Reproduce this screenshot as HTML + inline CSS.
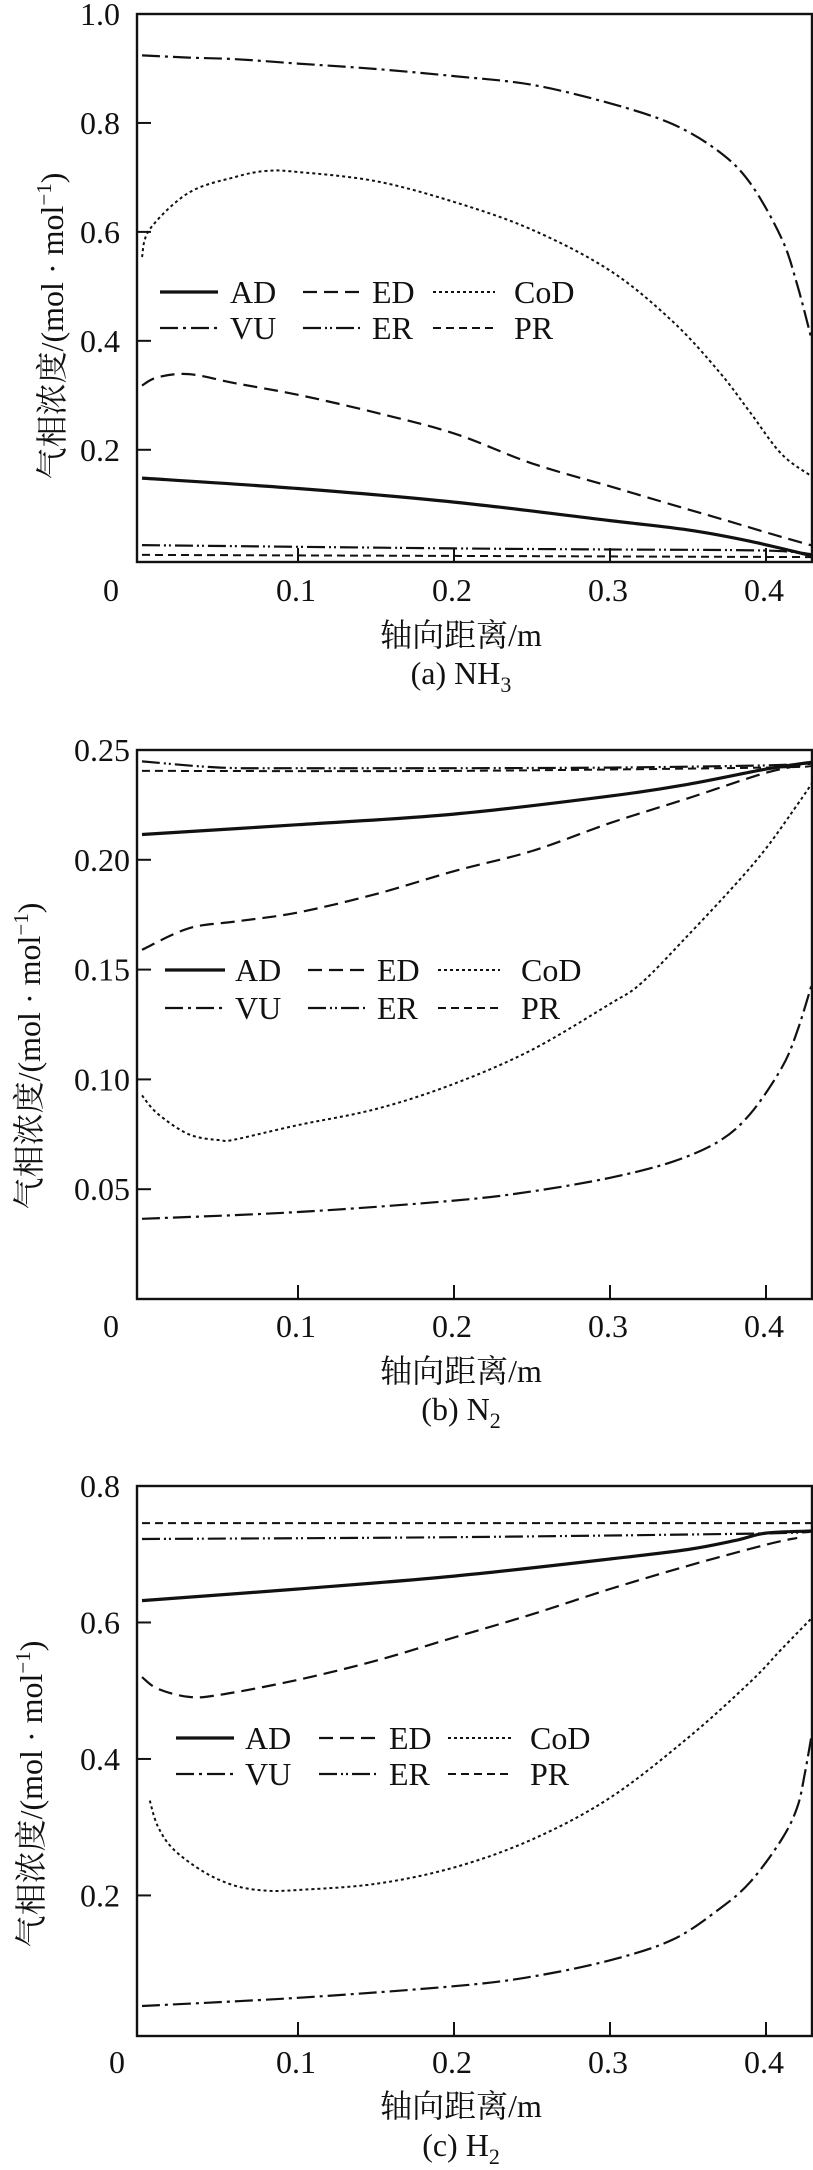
<!DOCTYPE html>
<html><head><meta charset="utf-8">
<style>
html,body{margin:0;padding:0;background:#fff;}
svg{display:block;}
text{font-family:"Liberation Serif","Noto Serif CJK SC",serif;fill:#111;}
</style></head>
<body>
<svg id="chart" width="813" height="2170" viewBox="0 0 813 2170" xmlns="http://www.w3.org/2000/svg"></svg>
<script>
// ---- data ----
const xTickValues = [0.1, 0.2, 0.3, 0.4];
const xTickLabels = ["0.1", "0.2", "0.3", "0.4"];
const seriesNames = ["AD", "ED", "CoD", "VU", "ER", "PR"];

// Panel (a) NH3
const aYTicks = [0.2, 0.4, 0.6, 0.8, 1.0];
const aYTickLabels = ["0.2", "0.4", "0.6", "0.8", "1.0"];
const aADx = [0, 0.1, 0.2, 0.3, 0.35, 0.39, 0.43];
const aADy = [0.148, 0.129, 0.104, 0.070, 0.053, 0.032, 0.005];
const aEDx = [0, 0.01, 0.03, 0.06, 0.1, 0.15, 0.2, 0.25, 0.3, 0.34, 0.37, 0.39, 0.41, 0.43];
const aEDy = [0.318, 0.333, 0.339, 0.322, 0.301, 0.268, 0.230, 0.175, 0.133, 0.099, 0.074, 0.057, 0.040, 0.024];
const aCoDx = [0, 0.005, 0.03, 0.06, 0.08, 0.1, 0.15, 0.2, 0.25, 0.3, 0.34, 0.37, 0.39, 0.41, 0.43];
const aCoDy = [0.554, 0.605, 0.672, 0.701, 0.712, 0.710, 0.693, 0.655, 0.604, 0.529, 0.436, 0.343, 0.268, 0.192, 0.150];
const aVUx = [0, 0.03, 0.06, 0.1, 0.15, 0.2, 0.25, 0.3, 0.34, 0.37, 0.39, 0.41, 0.42, 0.43];
const aVUy = [0.924, 0.920, 0.917, 0.909, 0.899, 0.886, 0.870, 0.836, 0.798, 0.747, 0.689, 0.588, 0.503, 0.394];
const aERx = [0, 0.2, 0.3, 0.4, 0.43];
const aERy = [0.025, 0.019, 0.017, 0.015, 0.008];
const aPRx = [0, 0.43];
const aPRy = [0.007, 0.003];

// Panel (b) N2
const bYTicks = [0.05, 0.10, 0.15, 0.20, 0.25];
const bYTickLabels = ["0.05", "0.10", "0.15", "0.20", "0.25"];
const bADx = [0, 0.1, 0.2, 0.3, 0.35, 0.4, 0.43];
const bADy = [0.2115, 0.216, 0.2208, 0.229, 0.2344, 0.2413, 0.2445];
const bEDx = [0, 0.03, 0.06, 0.1, 0.15, 0.2, 0.25, 0.3, 0.35, 0.4, 0.43];
const bEDy = [0.159, 0.1688, 0.1719, 0.176, 0.1844, 0.1948, 0.204, 0.2167, 0.228, 0.2396, 0.2440];
const bCoDx = [0, 0.01, 0.03, 0.05, 0.06, 0.1, 0.15, 0.2, 0.25, 0.3, 0.32, 0.35, 0.38, 0.4, 0.42, 0.43];
const bCoDy = [0.0927, 0.0844, 0.075, 0.0723, 0.0727, 0.0792, 0.0865, 0.098, 0.1135, 0.1344, 0.1438, 0.1656, 0.1885, 0.2052, 0.225, 0.2354];
const bVUx = [0, 0.1, 0.2, 0.25, 0.3, 0.34, 0.37, 0.39, 0.41, 0.42, 0.43];
const bVUy = [0.0365, 0.0396, 0.0448, 0.049, 0.0552, 0.0625, 0.0719, 0.0844, 0.1052, 0.1219, 0.1448];
const bERx = [0, 0.05, 0.1, 0.2, 0.3, 0.4, 0.43];
const bERy = [0.2448, 0.2420, 0.2417, 0.2417, 0.2420, 0.2430, 0.2440];
const bPRx = [0, 0.2, 0.4, 0.43];
const bPRy = [0.2405, 0.2405, 0.2420, 0.2428];

// Panel (c) H2
const cYTicks = [0.2, 0.4, 0.6, 0.8];
const cYTickLabels = ["0.2", "0.4", "0.6", "0.8"];
const cADx = [0, 0.1, 0.2, 0.3, 0.35, 0.38, 0.4, 0.43];
const cADy = [0.632, 0.649, 0.668, 0.693, 0.707, 0.720, 0.731, 0.734];
const cEDx = [0, 0.01, 0.03, 0.05, 0.1, 0.15, 0.2, 0.25, 0.3, 0.35, 0.4, 0.42];
const cEDy = [0.520, 0.503, 0.491, 0.494, 0.516, 0.544, 0.578, 0.612, 0.649, 0.683, 0.714, 0.724];
const cCoDx = [0.005, 0.01, 0.02, 0.04, 0.06, 0.08, 0.1, 0.15, 0.2, 0.25, 0.3, 0.35, 0.39, 0.41, 0.43];
const cCoDy = [0.339, 0.302, 0.268, 0.234, 0.214, 0.207, 0.208, 0.217, 0.241, 0.282, 0.343, 0.431, 0.513, 0.561, 0.608];
const cVUx = [0, 0.1, 0.2, 0.25, 0.3, 0.34, 0.37, 0.39, 0.41, 0.42, 0.425, 0.43];
const cVUy = [0.038, 0.050, 0.067, 0.081, 0.105, 0.135, 0.180, 0.220, 0.282, 0.329, 0.380, 0.445];
const cERx = [0, 0.2, 0.4, 0.43];
const cERy = [0.7224, 0.725, 0.7306, 0.734];
const cPRx = [0, 0.43];
const cPRy = [0.7456, 0.7456];

// ---- rendering ----
const NS = "http://www.w3.org/2000/svg";
const svg = document.getElementById("chart");
const FS = 32;
function mk(tag, attrs, parent) {
  const e = document.createElementNS(NS, tag);
  for (const k in attrs) e.setAttribute(k, attrs[k]);
  (parent || svg).appendChild(e);
  return e;
}
const styles = {
  AD: {w: 3.2, dash: ""},
  ED: {w: 2.2, dash: "14 7"},
  CoD: {w: 2, dash: "3 3"},
  VU: {w: 2.2, dash: "18 5 3 5"},
  ER: {w: 2.2, dash: "18 4 2 3 2 4"},
  PR: {w: 2, dash: "8 5"}
};
function smoothPath(pts) {
  if (pts.length < 3) return "M" + pts.map(p => p[0].toFixed(1) + "," + p[1].toFixed(1)).join(" L");
  let d = "M" + pts[0][0].toFixed(1) + "," + pts[0][1].toFixed(1);
  for (let i = 0; i < pts.length - 1; i++) {
    const p0 = pts[i - 1] || pts[i], p1 = pts[i], p2 = pts[i + 1], p3 = pts[i + 2] || p2;
    const c1x = p1[0] + (p2[0] - p0[0]) / 6, c1y = p1[1] + (p2[1] - p0[1]) / 6;
    const c2x = p2[0] - (p3[0] - p1[0]) / 6, c2y = p2[1] - (p3[1] - p1[1]) / 6;
    d += " C" + c1x.toFixed(1) + "," + c1y.toFixed(1) + " " + c2x.toFixed(1) + "," + c2y.toFixed(1) + " " + p2[0].toFixed(1) + "," + p2[1].toFixed(1);
  }
  return d;
}
const X0 = 142, XS = 1560, LEFT = 137, RIGHT = 812;
const xScale = v => X0 + v * XS;

const panels = [
  {id: "a", top: 14, bottom: 562, ymin: -0.006, ymax: 1.0, ticks: aYTicks, labels: aYTickLabels, labelRight: 120, zeroX: 111, tickLabelY: 590, titleY: 634, capY: 673, ylabX: 52, ylabY: 326,
   leg: {r1: 292, r2: 328, cols: [[160, 218, 230], [303, 363, 372], [433, 495, 514]]}, caption: ["(a) NH", "3"],
   data: {AD: [aADx, aADy], ED: [aEDx, aEDy], CoD: [aCoDx, aCoDy], VU: [aVUx, aVUy], ER: [aERx, aERy], PR: [aPRx, aPRy]}},
  {id: "b", top: 750, bottom: 1299, ymin: 0.0, ymax: 0.25, ticks: bYTicks, labels: bYTickLabels, labelRight: 130, zeroX: 111, tickLabelY: 1326, titleY: 1370, capY: 1409, ylabX: 29, ylabY: 1056,
   leg: {r1: 970, r2: 1008, cols: [[165, 225, 235], [308, 368, 377], [438, 500, 521]]}, caption: ["(b) N", "2"],
   data: {AD: [bADx, bADy], ED: [bEDx, bEDy], CoD: [bCoDx, bCoDy], VU: [bVUx, bVUy], ER: [bERx, bERy], PR: [bPRx, bPRy]}},
  {id: "c", top: 1486, bottom: 2036, ymin: -0.006, ymax: 0.8, ticks: cYTicks, labels: cYTickLabels, labelRight: 120, zeroX: 117, tickLabelY: 2062, titleY: 2105, capY: 2145, ylabX: 31, ylabY: 1794,
   leg: {r1: 1738, r2: 1774, cols: [[176, 234, 245], [319, 378, 389], [448, 511, 530]]}, caption: ["(c) H", "2"],
   data: {AD: [cADx, cADy], ED: [cEDx, cEDy], CoD: [cCoDx, cCoDy], VU: [cVUx, cVUy], ER: [cERx, cERy], PR: [cPRx, cPRy]}}
];

panels.forEach(P => {
  const g = mk("g", {});
  
  
  const yScale = v => P.bottom - (v - P.ymin) / (P.ymax - P.ymin) * (P.bottom - P.top);
  const clipId = "clip" + P.id;
  const cp = mk("clipPath", {id: clipId}, g);
  mk("rect", {x: LEFT, y: P.top, width: RIGHT - LEFT, height: P.bottom - P.top}, cp);

  const sg = mk("g", {"clip-path": "url(#" + clipId + ")"}, g);
  seriesNames.forEach(n => {
    const [xs, ys] = P.data[n];
    const pts = xs.map((x, i) => [xScale(x), yScale(ys[i])]);
    const st = styles[n];
    const p = mk("path", {d: smoothPath(pts), fill: "none", stroke: "#111", "stroke-width": st.w, "stroke-dasharray": st.dash}, sg);
    
    
  });

  const fr = mk("rect", {x: LEFT, y: P.top, width: RIGHT - LEFT, height: P.bottom - P.top, fill: "none", stroke: "#111", "stroke-width": 2.4}, g);
  
  

  xTickValues.forEach((v, i) => {
    const x = xScale(v);
    mk("line", {x1: x, x2: x, y1: P.bottom, y2: P.bottom - 14, stroke: "#111", "stroke-width": 2}, g);
    const t = mk("text", {x: x - 2, y: P.tickLabelY + 11, "font-size": FS, "text-anchor": "middle"}, g);
    t.textContent = xTickLabels[i];
    
    
  });
  const z = mk("text", {x: P.zeroX, y: P.tickLabelY + 11, "font-size": FS, "text-anchor": "middle"}, g);
  z.textContent = "0";
  
  

  P.ticks.forEach((v, i) => {
    const y = yScale(v);
    if (Math.abs(y - P.top) > 2) mk("line", {x1: LEFT, x2: LEFT + 14, y1: y, y2: y, stroke: "#111", "stroke-width": 2}, g);
    const t = mk("text", {x: P.labelRight, y: y + 11, "font-size": FS, "text-anchor": "end"}, g);
    t.textContent = P.labels[i];
    
    
  });

  const xt = mk("text", {x: 461, y: P.titleY + 12, "font-size": FS, "text-anchor": "middle"}, g);
  xt.textContent = "轴向距离/m";
  
  

  const yt = mk("text", {x: 0, y: 0, "font-size": FS, "text-anchor": "middle", transform: "translate(" + (P.ylabX + 11) + "," + P.ylabY + ") rotate(-90)"}, g);
  yt.innerHTML = '气相浓度/(mol · mol<tspan dy="-12" font-size="21">−1</tspan><tspan dy="12">)</tspan>';
  
  

  const cap = mk("text", {x: 461, y: P.capY + 11, "font-size": FS, "text-anchor": "middle"}, g);
  cap.innerHTML = P.caption[0] + '<tspan dy="8" font-size="22">' + P.caption[1] + '</tspan>';
  
  

  const lg = mk("g", {}, g);
  
  
  seriesNames.forEach((n, i) => {
    const row = i < 3 ? P.leg.r1 : P.leg.r2;
    const col = P.leg.cols[i % 3];
    const st = styles[n];
    const e = mk("g", {}, lg);
    
    
    mk("line", {x1: col[0], x2: col[1], y1: row, y2: row, stroke: "#111", "stroke-width": st.w, "stroke-dasharray": st.dash}, e);
    const t = mk("text", {x: col[2], y: row + 11, "font-size": FS}, e);
    t.textContent = n;
  });
});
</script>
</body></html>
